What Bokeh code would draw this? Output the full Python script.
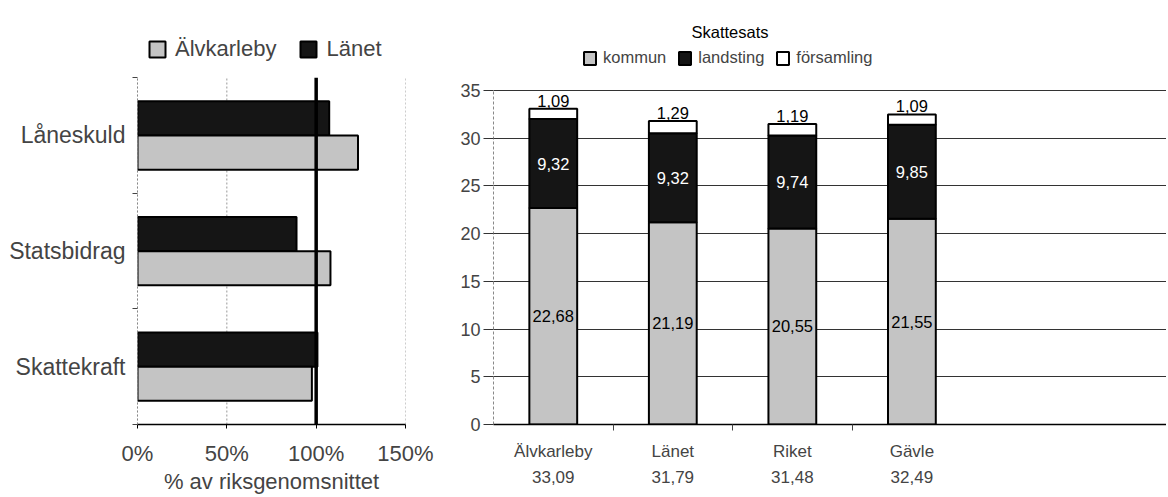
from bokeh.plotting import figure
from bokeh.models import (Range1d, FixedTicker, Legend, LegendItem, Label,
                          ColumnDataSource)
from bokeh.layouts import row
from bokeh.embed import file_html
from bokeh.resources import INLINE
from bokeh.core.properties import value
from bokeh.transform import dodge

FONT = "Liberation Sans"

# ---------------- data ----------------
indicators = ["Skattekraft", "Statsbidrag", "Låneskuld"]
alvkarleby_pct = [97.6, 108.0, 123.4]
lanet_pct = [100.7, 89.0, 107.3]
pct_ticks = [0, 50, 100, 150]
pct_labels = ["0%", "50%", "100%", "150%"]
reference_pct = 100

regions = ["Älvkarleby", "Länet", "Riket", "Gävle"]
kommun = [22.68, 21.19, 20.55, 21.55]
landsting = [9.32, 9.32, 9.74, 9.85]
forsamling = [1.09, 1.29, 1.19, 1.09]
totals = [33.09, 31.79, 31.48, 32.49]
rate_ticks = [0, 5, 10, 15, 20, 25, 30, 35]


def sv(v):
    return f"{v:.2f}".replace(".", ",")


GRAY = "#c4c4c4"
BLACK = "#151515"
H = 497
TOP = 12
BOTTOM = 73

# ---------------- left chart ----------------
ypos = list(range(len(indicators)))
y_lo, y_hi = ypos[0] - 0.5, ypos[-1] + 0.5
src_l = ColumnDataSource(dict(y=ypos, alv=alvkarleby_pct, lan=lanet_pct))

# range extends above the categories to leave room for the legend inside the frame
p1 = figure(width=440, height=H, x_range=Range1d(0, 150), y_range=Range1d(y_lo, 3.064),
            output_backend="svg", toolbar_location=None,
            min_border_left=137, min_border_right=35, min_border_top=TOP, min_border_bottom=BOTTOM)
p1.outline_line_color = None
p1.xgrid.visible = False
p1.ygrid.visible = False

# dotted vertical grid lines over the category area only
p1.segment(x0=pct_ticks, y0=[y_lo] * len(pct_ticks), x1=pct_ticks, y1=[y_hi] * len(pct_ticks),
           line_color="#999", line_dash="2 2", line_width=1)

r_lan = p1.hbar(y=dodge("y", 0.148, range=p1.y_range), left=0, right="lan", height=0.295, source=src_l,
                fill_color=BLACK, line_color="black", line_width=2)
r_alv = p1.hbar(y=dodge("y", -0.148, range=p1.y_range), left=0, right="alv", height=0.295, source=src_l,
                fill_color=GRAY, line_color="black", line_width=2)

# 100 % reference line
p1.segment(x0=[reference_pct], y0=[y_lo], x1=[reference_pct], y1=[y_hi], line_color="black", line_width=3.5)

p1.xaxis.ticker = FixedTicker(ticks=pct_ticks)
p1.xaxis.major_label_overrides = {t: l for t, l in zip(pct_ticks, pct_labels)}
p1.xaxis.axis_label = "% av riksgenomsnittet"
p1.xaxis.axis_label_text_font = FONT
p1.xaxis.axis_label_text_font_style = "normal"
p1.xaxis.axis_label_text_font_size = "22px"
p1.xaxis.axis_label_standoff = 0
p1.xaxis.major_label_text_font = FONT
p1.xaxis.major_label_text_font_size = "22px"
p1.xaxis.major_label_standoff = 12
p1.xaxis.major_tick_out = 4
p1.xaxis.major_tick_in = 0
p1.xaxis.minor_tick_line_color = None
p1.xaxis.axis_line_color = "black"
p1.xaxis.axis_line_width = 1.5

p1.yaxis.ticker = FixedTicker(ticks=ypos, minor_ticks=[y - 0.5 for y in ypos] + [y_hi])
p1.yaxis.bounds = (y_lo, y_hi)
p1.yaxis.major_label_overrides = {i: n for i, n in zip(ypos, indicators)}
p1.yaxis.major_label_text_font = FONT
p1.yaxis.major_label_text_font_size = "23px"
p1.yaxis.major_label_standoff = 6
p1.yaxis.major_tick_line_color = None
p1.yaxis.minor_tick_out = 5
p1.yaxis.minor_tick_in = 0
p1.yaxis.minor_tick_line_color = "#444"
p1.yaxis.axis_line_color = "#888"
p1.yaxis.axis_line_dash = "2 2"

leg1 = Legend(items=[LegendItem(label="Älvkarleby", renderers=[r_alv]),
                     LegendItem(label="Länet", renderers=[r_lan])],
              orientation="horizontal", location=(10, 362),
              label_text_font=FONT, label_text_font_size="22px",
              glyph_width=20, glyph_height=20, label_standoff=8, spacing=22,
              padding=0, margin=0, border_line_alpha=0, background_fill_alpha=0)
p1.add_layout(leg1)

# ---------------- right chart ----------------
xpos = list(range(len(regions)))
k_top = kommun
l_top = [k + l for k, l in zip(kommun, landsting)]
f_top = [lt + f for lt, f in zip(l_top, forsamling)]
src_r = ColumnDataSource(dict(
    x=xpos, k_top=k_top, l_top=l_top, f_top=f_top,
    k_mid=[k / 2 for k in kommun],
    l_mid=[k + l / 2 for k, l in zip(kommun, landsting)],
    k_lbl=[sv(v) for v in kommun], l_lbl=[sv(v) for v in landsting], f_lbl=[sv(v) for v in forsamling],
))

# y range reaches above 35 so that the legend and heading sit inside the frame
p2 = figure(width=726, height=H, x_range=Range1d(-0.5, 5.13), y_range=Range1d(0, 43.17),
            output_backend="svg", toolbar_location=None,
            min_border_left=53, min_border_right=0, min_border_top=TOP, min_border_bottom=BOTTOM)
p2.outline_line_color = None

rk = p2.vbar(x="x", bottom=0, top="k_top", width=0.4, source=src_r,
             fill_color=GRAY, line_color="black", line_width=2)
rl = p2.vbar(x="x", bottom="k_top", top="l_top", width=0.4, source=src_r,
             fill_color=BLACK, line_color="black", line_width=2)
rf = p2.vbar(x="x", bottom="l_top", top="f_top", width=0.4, source=src_r,
             fill_color="white", line_color="black", line_width=2)

p2.text(x="x", y="k_mid", text="k_lbl", source=src_r, text_align="center", text_baseline="middle",
        text_font=value(FONT), text_font_size="16.5px", text_color="black")
p2.text(x="x", y="l_mid", text="l_lbl", source=src_r, text_align="center", text_baseline="middle",
        text_font=value(FONT), text_font_size="16.5px", text_color="white")
p2.text(x="x", y="f_top", text="f_lbl", source=src_r, text_align="center", text_baseline="bottom",
        y_offset=-2, text_font=value(FONT), text_font_size="16.5px", text_color="black")

p2.yaxis.ticker = FixedTicker(ticks=rate_ticks)
p2.yaxis.bounds = (rate_ticks[0], rate_ticks[-1])
p2.yaxis.major_label_text_font = FONT
p2.yaxis.major_label_text_font_size = "18px"
p2.yaxis.major_label_standoff = 3
p2.yaxis.major_tick_out = 10
p2.yaxis.major_tick_in = 0
p2.yaxis.major_tick_line_color = "#333"
p2.yaxis.minor_tick_line_color = None
p2.yaxis.axis_line_color = "#888"
p2.yaxis.axis_line_dash = "3 2"

p2.xaxis.ticker = FixedTicker(ticks=xpos, minor_ticks=[x + 0.5 for x in xpos[:-1]])
p2.xaxis.major_label_overrides = {i: f"{n}\n{sv(t)}" for i, n, t in zip(xpos, regions, totals)}
p2.xaxis.major_label_text_font = FONT
p2.xaxis.major_label_text_font_size = "17px"
p2.xaxis.major_label_text_line_height = 1.42
p2.xaxis.major_label_standoff = 11
p2.xaxis.major_tick_line_color = None
p2.xaxis.minor_tick_out = 6
p2.xaxis.minor_tick_in = 0
p2.xaxis.minor_tick_line_color = "#444"
p2.xaxis.axis_line_color = "black"
p2.xaxis.axis_line_width = 1.5

p2.ygrid.ticker = FixedTicker(ticks=rate_ticks)
p2.ygrid.grid_line_color = "#333"
p2.ygrid.grid_line_width = 1
p2.xgrid.visible = False

leg2 = Legend(items=[LegendItem(label="kommun", renderers=[rk]),
                     LegendItem(label="landsting", renderers=[rl]),
                     LegendItem(label="församling", renderers=[rf])],
              orientation="horizontal", location=(89, 357),
              label_text_font=FONT, label_text_font_size="16.5px",
              glyph_width=15, glyph_height=16, label_standoff=6, spacing=11,
              padding=0, margin=0, border_line_alpha=0, background_fill_alpha=0)
p2.add_layout(leg2)
p2.add_layout(Label(x=236.5, y=393, x_units="screen", y_units="screen", text="Skattesats",
                    text_align="center", text_baseline="alphabetic",
                    text_font=FONT, text_font_size="16.5px", text_color="black"))

layout = row(p1, p2)
open("out.html", "w").write(file_html(layout, INLINE))
